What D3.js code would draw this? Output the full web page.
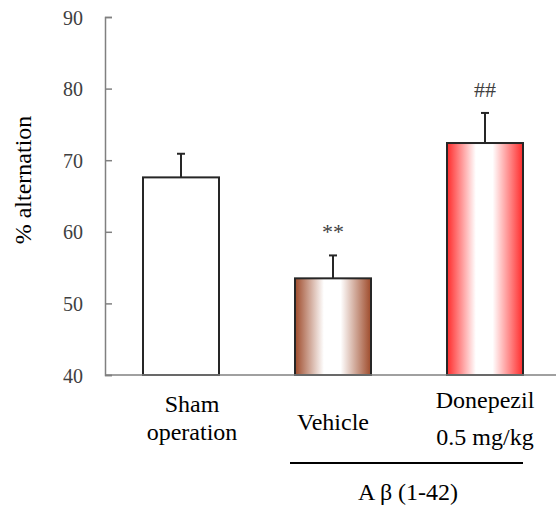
<!DOCTYPE html>
<html><head><meta charset="utf-8">
<script src="https://cdn.jsdelivr.net/npm/d3@7/dist/d3.min.js"></script>
<style>body{margin:0;background:#fff}svg{display:block}svg text{font-family:'Liberation Serif','Times New Roman',Times,serif !important}</style>
</head><body>
<script>
const groups = ["Sham operation", "Vehicle", "Donepezil 0.5 mg/kg"];
const groupLines = [["Sham", "operation"], ["Vehicle"], ["Donepezil", "0.5 mg/kg"]];
const means = [67.6, 53.5, 72.4];
const errors = [3.3, 3.2, 4.2];
const marks = ["", "**", "##"];
const yTicks = [40, 50, 60, 70, 80, 90];
const barColors = ["#ffffff", "#9e4b2b", "#ff2b2b"];
const groupLabel = "A β (1-42)";
const yTitle = "% alternation";

const FONT = "'Liberation Serif','Times New Roman',Times,serif";
const W = 558, H = 506;
const svg = d3.select("body").append("svg").attr("width", W).attr("height", H);
const defs = svg.append("defs");
barColors.forEach((c, i) => {
  const g = defs.append("linearGradient").attr("id", "g" + i).attr("x1", "0").attr("x2", "1").attr("y1", "0").attr("y2", "0");
  [[0, c], [0.38, "#ffffff"], [0.6, "#ffffff"], [1, c]].forEach(s => g.append("stop").attr("offset", s[0]).attr("stop-color", s[1]));
});

const x = d3.scaleBand().domain(groups).range([105, 561]).paddingInner(0.5).paddingOuter(0.25);
const y = d3.scaleLinear().domain([40, 90]).range([375, 17]);

// y axis
const ya = svg.append("g").attr("transform", "translate(105,0)")
  .call(d3.axisRight(y).tickValues(yTicks).tickSize(7).tickFormat(d3.format("d")));
ya.attr("font-family", FONT);
ya.select(".domain").attr("stroke", "#808080").attr("stroke-width", 1.5);
ya.selectAll(".tick line").attr("stroke", "#808080").attr("stroke-width", 1.5);
ya.selectAll(".tick text").attr("x", -22).attr("text-anchor", "end").attr("fill", "#404040")
  .style("font-family", FONT).style("font-size", "20px").attr("dy", "0.35em");

// bars
svg.selectAll("rect.bar").data(groups).join("rect").attr("class", "bar")
  .attr("x", d => x(d)).attr("width", x.bandwidth())
  .attr("y", (d, i) => y(means[i])).attr("height", (d, i) => y(40) - y(means[i]))
  .attr("fill", (d, i) => `url(#g${i})`).attr("stroke", "#262626").attr("stroke-width", 2);

// x baseline
svg.append("line").attr("x1", 105).attr("x2", 556).attr("y1", y(40)).attr("y2", y(40))
  .attr("stroke", "#808080").attr("stroke-width", 1.5);

function txt(xp, yp, t, size, fill) {
  return svg.append("text").attr("x", xp).attr("y", yp).attr("text-anchor", "middle")
    .attr("fill", fill).style("font-family", FONT).style("font-size", size + "px").text(t);
}

// error bars
groups.forEach((g, i) => {
  const cx = x(g) + x.bandwidth() / 2;
  svg.append("line").attr("x1", cx).attr("x2", cx).attr("y1", y(means[i])).attr("y2", y(means[i] + errors[i]))
    .attr("stroke", "#262626").attr("stroke-width", 2);
  svg.append("line").attr("x1", cx - 4).attr("x2", cx + 4).attr("y1", y(means[i] + errors[i])).attr("y2", y(means[i] + errors[i]))
    .attr("stroke", "#262626").attr("stroke-width", 2);
  if (marks[i]) txt(cx, y(means[i] + errors[i]) - 16, marks[i], 22, "#404040");
});

// x labels
const labelOffsets = [11, 0, 0];
const lineY = [[412, 440], [430], [408, 445]];
groups.forEach((g, i) => {
  const cx = x(g) + x.bandwidth() / 2 + labelOffsets[i];
  groupLines[i].forEach((t, j) => txt(cx, lineY[i][j], t, 24, "#000"));
});

// group bracket
svg.append("line").attr("x1", 290).attr("x2", 523).attr("y1", 463).attr("y2", 463).attr("stroke", "#000").attr("stroke-width", 2);
txt(408, 500, groupLabel, 24, "#000");

// y title
txt(0, 0, yTitle, 24, "#000").attr("transform", "translate(31,180) rotate(-90)");
</script>
</body></html>
